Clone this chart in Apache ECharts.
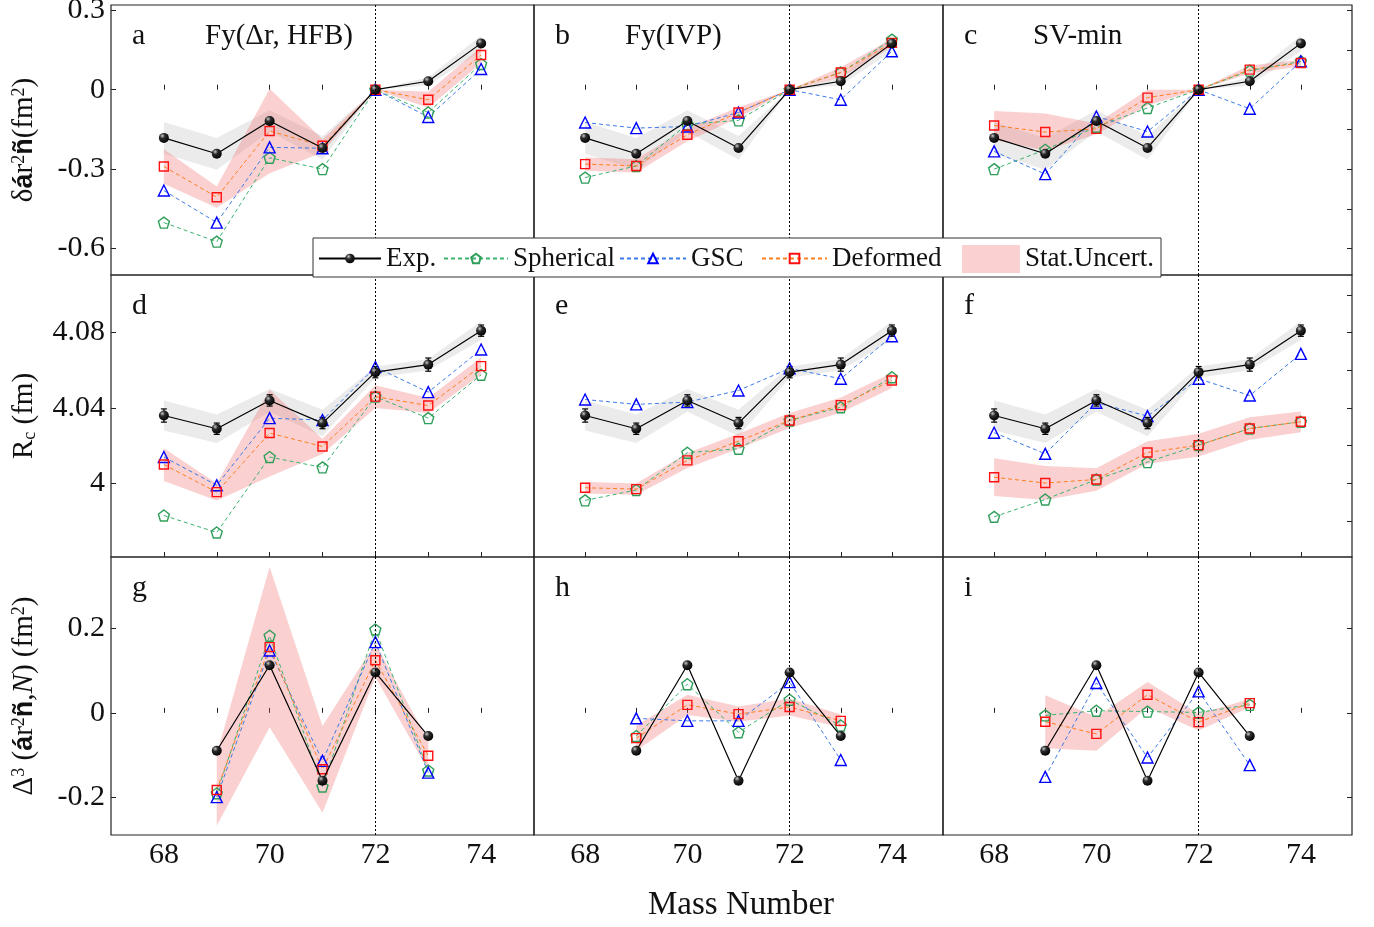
<!DOCTYPE html>
<html>
<head>
<meta charset="utf-8">
<script src="https://cdn.jsdelivr.net/npm/echarts@6/dist/echarts.min.js"></script>
<style>
html, body { margin: 0; padding: 0; background: #fff; }
#main { width: 1374px; height: 927px; }
</style>
</head>
<body>
<div id="main"></div>
<script>
// mass numbers on the x axis
var massNumbers = [68, 69, 70, 71, 72, 73, 74];

// row 1 : delta <r2> (fm2)
var expDr = [-0.182, -0.242, -0.118, -0.220, 0, 0.032, 0.175];
var expDrErr = [0.06, 0.06, 0.04, 0.045, 0, 0.015, 0.03];
var sphA = [-0.502, -0.574, -0.257, -0.300, 0, -0.086, 0.097];
var gscA = [-0.381, -0.502, -0.218, -0.221, 0, -0.103, 0.078];
var defA = [-0.290, -0.406, -0.156, -0.212, 0, -0.038, 0.131];
var defErrA = [0.065, 0.04, 0.16, 0.025, 0, 0.03, 0.03];
var sphB = [-0.332, -0.288, -0.130, -0.116, 0, 0.065, 0.189];
var gscB = [-0.124, -0.145, -0.139, -0.086, 0, -0.038, 0.145];
var defB = [-0.281, -0.288, -0.170, -0.086, 0, 0.065, 0.177];
var defErrB = [0.025, 0.025, 0.025, 0.02, 0, 0.02, 0.015];
var sphC = [-0.300, -0.227, -0.140, -0.069, 0, 0.072, 0.107];
var gscC = [-0.233, -0.319, -0.101, -0.158, 0, -0.072, 0.107];
var defC = [-0.135, -0.160, -0.148, -0.030, 0, 0.076, 0.101];
var defErrC = [0.055, 0.07, 0.02, 0.03, 0, 0.015, 0.012];

// row 2 : Rc (fm)
var expRc = [4.036, 4.029, 4.044, 4.032, 4.059, 4.063, 4.081];
var expRcErr = [0.008, 0.0075, 0.006, 0.007, 0.003, 0.003, 0.005];
var expRcBar = [0.0035, 0.003, 0.003, 0.003, 0.003, 0.0035, 0.003];
var sphD = [3.983, 3.974, 4.014, 4.0085, 4.046, 4.0346, 4.0576];
var gscD = [4.014, 3.999, 4.0346, 4.0336, 4.0617, 4.0484, 4.071];
var defD = [4.010, 3.9954, 4.0267, 4.0196, 4.046, 4.0413, 4.0622];
var defErrD = [0.0087, 0.0045, 0.023, 0.004, 0.006, 0.004, 0.0045];
var sphE = [3.991, 3.9965, 4.0163, 4.0184, 4.0334, 4.0404, 4.0563];
var gscE = [4.0445, 4.0419, 4.0431, 4.0493, 4.061, 4.0555, 4.078];
var defE = [3.9977, 3.997, 4.0122, 4.0224, 4.0334, 4.0415, 4.0546];
var defErrE = [0.003, 0.003, 0.004, 0.004, 0.004, 0.004, 0.004];
var sphF = [3.9823, 3.9915, 4.0021, 4.0113, 4.0203, 4.0291, 4.0327];
var gscF = [4.0269, 4.0157, 4.0428, 4.0357, 4.0555, 4.0466, 4.0687];
var defF = [4.0033, 4.0002, 4.0021, 4.0164, 4.0203, 4.0291, 4.0327];
var defErrF = [0.01, 0.009, 0.006, 0.006, 0.006, 0.006, 0.0055];

// row 3 : three-point odd-even staggering
var expD3 = [null, -0.090, 0.113, -0.161, 0.096, -0.055, null];
var sphG = [null, -0.191, 0.183, -0.175, 0.198, -0.137, null];
var gscG = [null, -0.200, 0.148, -0.114, 0.168, -0.142, null];
var defG = [null, -0.183, 0.156, -0.134, 0.125, -0.102, null];
var defErrG = [null, 0.085, 0.19, 0.103, 0.04, 0.035, null];
var sphH = [null, -0.055, 0.068, -0.046, 0.031, -0.030, null];
var gscH = [null, -0.013, -0.019, -0.019, 0.073, -0.112, null];
var defH = [null, -0.060, 0.019, -0.003, 0.014, -0.019, null];
var defErrH = [null, 0.03, 0.024, 0.018, 0.02, 0.015, null];
var sphI = [null, -0.006, 0.005, 0.003, 0.001, 0.019, null];
var gscI = [null, -0.152, 0.071, -0.106, 0.051, -0.124, null];
var defI = [null, -0.021, -0.050, 0.043, -0.022, 0.023, null];
var defErrI = [null, 0.063, 0.04, 0.03, 0.02, 0.01, null];

// axis ticks
var xTicks = [68, 69, 70, 71, 72, 73, 74];
var xLabels = [68, 70, 72, 74];
var yLabelsDr = [-0.6, -0.3, 0, 0.3];
var yTicksDr = [-0.6, -0.45, -0.3, -0.15, 0, 0.15, 0.3];
var yLabelsRc = [4, 4.04, 4.08];
var yTicksRc = [3.98, 4, 4.02, 4.04, 4.06, 4.08, 4.1];
var yLabelsD3 = [-0.2, 0, 0.2];
var yTicksD3 = [-0.2, 0, 0.2];

var panelLetters = ['a', 'b', 'c', 'd', 'e', 'f', 'g', 'h', 'i'];
var panelTitles = ['Fy(\u0394r, HFB)', 'Fy(IVP)', 'SV-min'];

var panels = [
  { exp: expDr, expErr: expDrErr, bar: null, sph: sphA, gsc: gscA, def: defA, defErr: defErrA },
  { exp: expDr, expErr: expDrErr, bar: null, sph: sphB, gsc: gscB, def: defB, defErr: defErrB },
  { exp: expDr, expErr: expDrErr, bar: null, sph: sphC, gsc: gscC, def: defC, defErr: defErrC },
  { exp: expRc, expErr: expRcErr, bar: expRcBar, sph: sphD, gsc: gscD, def: defD, defErr: defErrD },
  { exp: expRc, expErr: expRcErr, bar: expRcBar, sph: sphE, gsc: gscE, def: defE, defErr: defErrE },
  { exp: expRc, expErr: expRcErr, bar: expRcBar, sph: sphF, gsc: gscF, def: defF, defErr: defErrF },
  { exp: expD3, expErr: null, bar: null, sph: sphG, gsc: gscG, def: defG, defErr: defErrG },
  { exp: expD3, expErr: null, bar: null, sph: sphH, gsc: gscH, def: defH, defErr: defErrH },
  { exp: expD3, expErr: null, bar: null, sph: sphI, gsc: gscI, def: defI, defErr: defErrI }
];

var F = 'Liberation Serif';
var colLeft = [111, 534, 943], colWidth = [423, 409, 409];
var rowTop = [5, 275, 557], rowHeight = [270, 282, 278];
var rowMin = [-0.7, 3.961, -0.29], rowMax = [0.32, 4.1105, 0.37];
var rowLabels = [yLabelsDr, yLabelsRc, yLabelsD3];
var rowTicks = [yTicksDr, yTicksRc, yTicksD3];

var richName = {
  g: { fontFamily: F, fontSize: 29, color: '#111' },
  b: { fontFamily: 'Liberation Sans', fontWeight: 'bold', fontSize: 27, color: '#111' },
  i: { fontFamily: F, fontStyle: 'italic', fontSize: 29, color: '#111' },
  s: { fontFamily: F, fontSize: 18, color: '#111', verticalAlign: 'top' },
  u: { fontFamily: F, fontSize: 18, color: '#111', verticalAlign: 'bottom' }
};
var rowNames = [
  '{g|\u03b4}{b|\u00e1}{g|r}{s|2}{b|\u00f1}{g|(fm}{s|2}{g|)}',
  '{g|R}{u|c}{g| (fm)}',
  '{g|\u0394}{s|3}{g| (}{b|\u00e1}{g|r}{s|2}{b|\u00f1}{g|,}{i|N}{g|) (fm}{s|2}{g|)}'
];

var expBall = {
  type: 'radial', x: 0.35, y: 0.3, r: 0.75,
  colorStops: [{ offset: 0, color: '#c8c8c8' }, { offset: 0.35, color: '#2a2a2a' }, { offset: 1, color: '#000' }]
};
var pentagon = 'path://M0,-1L0.951,-0.309L0.588,0.809L-0.588,0.809L-0.951,-0.309Z';
var pink = 'rgba(240,100,100,0.3)';
var grey = 'rgba(170,170,170,0.24)';

function pts(vals) {
  var out = [];
  vals.forEach(function (v, k) { if (v !== null) out.push([massNumbers[k], v]); });
  return out;
}
function rangePts(vals, errs) {
  var out = [];
  vals.forEach(function (v, k) { if (v !== null) out.push([massNumbers[k], v - errs[k], v + errs[k]]); });
  return out;
}

// shaded band drawn as one polygon through the axis scales
function bandSeries(i, name, vals, errs, color) {
  var data = rangePts(vals, errs);
  return {
    type: 'custom', name: name, xAxisIndex: i, yAxisIndex: i, silent: true, z: 1,
    itemStyle: { color: color },
    encode: { x: 0, y: [1, 2] },
    data: data,
    renderItem: function (params, api) {
      if (params.dataIndex !== 0) return;
      var up = [], lo = [];
      data.forEach(function (d) {
        up.push(api.coord([d[0], d[2]]));
        lo.unshift(api.coord([d[0], d[1]]));
      });
      return { type: 'polygon', shape: { points: up.concat(lo) }, style: { fill: color } };
    }
  };
}

// small error bars under the experimental points
function errorBarSeries(i, vals, errs) {
  return {
    type: 'custom', name: 'expBar', xAxisIndex: i, yAxisIndex: i, silent: true, z: 3,
    encode: { x: 0, y: [1, 2] },
    data: rangePts(vals, errs),
    renderItem: function (params, api) {
      var top = api.coord([api.value(0), api.value(2)]);
      var bot = api.coord([api.value(0), api.value(1)]);
      return {
        type: 'group', children: [
          { type: 'line', shape: { x1: top[0], y1: top[1], x2: bot[0], y2: bot[1] }, style: { stroke: '#000', lineWidth: 1.2 } },
          { type: 'line', shape: { x1: top[0] - 3, y1: top[1], x2: top[0] + 3, y2: top[1] }, style: { stroke: '#000', lineWidth: 1.2 } },
          { type: 'line', shape: { x1: bot[0] - 3, y1: bot[1], x2: bot[0] + 3, y2: bot[1] }, style: { stroke: '#000', lineWidth: 1.2 } }
        ]
      };
    }
  };
}

var grids = [], xAxes = [], yAxes = [], series = [], graphics = [];

panels.forEach(function (p, i) {
  var row = Math.floor(i / 3), col = i % 3;
  grids.push({
    left: colLeft[col], top: rowTop[row], width: colWidth[col], height: rowHeight[row],
    outerBoundsMode: 'none', containLabel: false,
    show: true, borderColor: '#222', borderWidth: 1.2, backgroundColor: 'transparent'
  });
  xAxes.push({
    gridIndex: i, type: 'value', min: 67, max: 75,
    axisLine: { show: false }, splitLine: { show: false },
    axisTick: { show: true, inside: true, length: 5, customValues: xTicks, lineStyle: { color: '#222' } },
    axisLabel: { show: row === 2, customValues: xLabels, fontFamily: F, fontSize: 30, color: '#111', margin: 5 }
  });
  yAxes.push({
    gridIndex: i, type: 'value', min: rowMin[row], max: rowMax[row],
    position: col === 2 ? 'right' : 'left',
    axisLine: { show: false }, splitLine: { show: false },
    axisTick: { show: col !== 1, inside: true, length: 5, customValues: col === 0 ? rowLabels[row] : rowTicks[row], lineStyle: { color: '#222' } },
    axisLabel: { show: col === 0, customValues: rowLabels[row], fontFamily: F, fontSize: 30, color: '#111', margin: 6 },
    name: col === 0 ? rowNames[row] : '',
    nameLocation: 'middle', nameRotate: 90, nameGap: 72,
    nameTextStyle: { rich: richName }
  });

  if (p.expErr) series.push(bandSeries(i, 'expBand', p.exp, p.expErr, grey));
  series.push(bandSeries(i, 'Stat.Uncert.', p.def, p.defErr, pink));
  if (p.bar) series.push(errorBarSeries(i, p.exp, p.bar));

  series.push({
    type: 'line', name: 'Spherical', xAxisIndex: i, yAxisIndex: i, data: pts(p.sph),
    symbol: pentagon, symbolSize: 11, z: 3,
    itemStyle: { color: 'rgba(0,0,0,0)', borderColor: '#2f9e5a', borderWidth: 1.4 },
    lineStyle: { color: '#3cb371', width: 1, type: [4, 3] }
  });
  series.push({
    type: 'line', name: 'GSC', xAxisIndex: i, yAxisIndex: i, data: pts(p.gsc),
    symbol: 'triangle', symbolSize: 11, z: 3,
    itemStyle: { color: 'rgba(0,0,0,0)', borderColor: '#0000ff', borderWidth: 1.4 },
    lineStyle: { color: '#3d7be8', width: 1, type: [4, 3] }
  });
  series.push({
    type: 'line', name: 'Deformed', xAxisIndex: i, yAxisIndex: i, data: pts(p.def),
    symbol: 'rect', symbolSize: 9, z: 3,
    itemStyle: { color: 'rgba(0,0,0,0)', borderColor: '#ff1010', borderWidth: 1.4 },
    lineStyle: { color: '#ff7f1e', width: 1, type: [4, 3] }
  });
  series.push({
    type: 'line', name: 'Exp.', xAxisIndex: i, yAxisIndex: i, data: pts(p.exp),
    symbol: 'circle', symbolSize: 10, z: 4,
    itemStyle: { color: expBall },
    lineStyle: { color: '#000', width: 1.2 },
    markLine: {
      silent: true, symbol: ['none', 'none'], label: { show: false },
      lineStyle: { type: [2, 2], color: '#000', width: 1 },
      data: [{ xAxis: 72 }]
    }
  });

  graphics.push({
    type: 'text', x: colLeft[col] + 21, y: rowTop[row] + 31, z: 20,
    style: { text: panelLetters[i], font: '30px "Liberation Serif"', fill: '#111', textVerticalAlign: 'middle', verticalAlign: 'middle' }
  });
});

panelTitles.forEach(function (t, col) {
  graphics.push({
    type: 'text', x: colLeft[col] + [94, 91, 90][col], y: rowTop[0] + 31, z: 20,
    style: { text: t, font: '29px "Liberation Serif"', fill: '#111', textVerticalAlign: 'middle', verticalAlign: 'middle' }
  });
});

graphics.push({
  type: 'text', x: 741, y: 905, z: 20,
  style: { text: 'Mass Number', font: '33px "Liberation Serif"', fill: '#111', textAlign: 'center', align: 'center', textVerticalAlign: 'middle', verticalAlign: 'middle' }
});
// legend frame
graphics.push({
  type: 'rect', z: 50,
  shape: { x: 313, y: 238, width: 848, height: 39 },
  style: { fill: '#fff', stroke: '#333', lineWidth: 1 }
});

var legendText = { fontFamily: F, fontSize: 27, color: '#111' };
function legendItem(name, left, w, h, extra) {
  var item = { name: name };
  if (extra) for (var k in extra) item[k] = extra[k];
  return {
    data: [item], left: left, top: 259 - Math.max(h, 28) / 2, z: 60,
    itemWidth: w, itemHeight: h, padding: 0, textStyle: legendText, selectedMode: false
  };
}

var option = {
  animation: false,
  backgroundColor: '#fff',
  grid: grids,
  xAxis: xAxes,
  yAxis: yAxes,
  legend: [
    legendItem('Exp.', 318, 62, 12),
    legendItem('Spherical', 443, 64, 12),
    legendItem('GSC', 619, 66, 12),
    legendItem('Deformed', 761, 65, 12),
    legendItem('Stat.Uncert.', 962, 58, 28, { icon: 'rect', itemStyle: { color: pink } })
  ],
  graphic: graphics,
  series: series
};

var chart = echarts.init(document.getElementById('main'));
chart.setOption(option);
</script>
</body>
</html>
